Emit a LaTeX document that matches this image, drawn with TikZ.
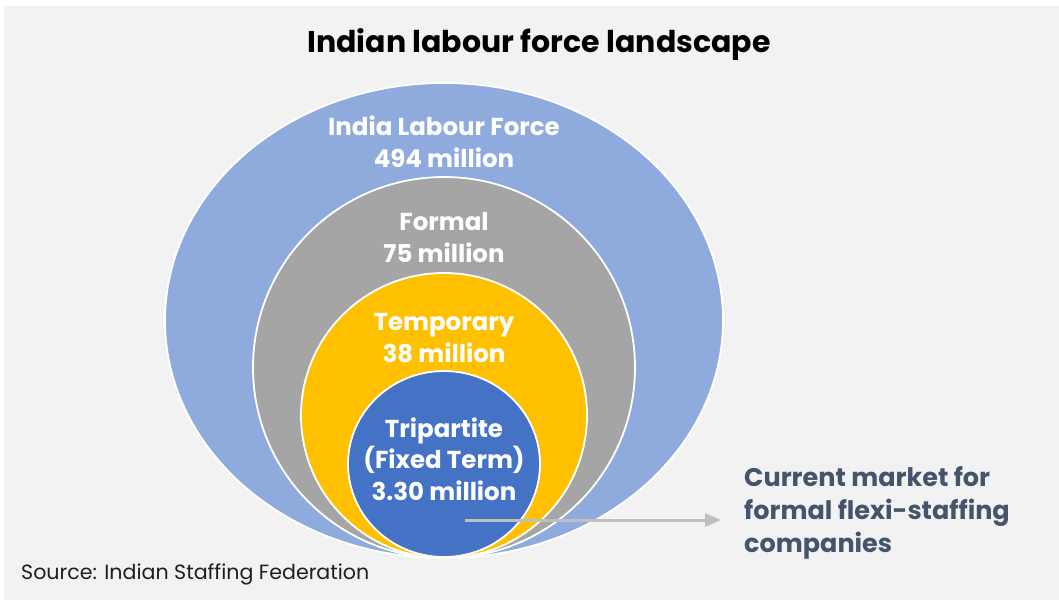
\documentclass[tikz,border=0pt]{standalone}
\usepackage{fontspec}
\setmainfont{Poppins}
\usetikzlibrary{arrows.meta,shapes.geometric}
\definecolor{bgc}{HTML}{F2F2F2}
\definecolor{outerc}{HTML}{8FAADC}
\definecolor{grayc}{HTML}{A5A5A5}
\definecolor{yellowc}{HTML}{FFC000}
\definecolor{bluec}{HTML}{4472C4}
\definecolor{slatec}{HTML}{44546A}
\definecolor{arrowc}{HTML}{BFBFBF}
\definecolor{srcc}{HTML}{1F1F1F}
\tikzset{
  ring/.style={ellipse, draw=white, line width=1.8pt, inner sep=0pt},
  lbl/.style={text=white, font=\bfseries\fontsize{24.5}{31.5}\selectfont, align=center, anchor=base, inner sep=0pt},
  market/.style={text=slatec, font=\bfseries\fontsize{25.5}{33}\selectfont, align=left, anchor=base west, inner sep=0pt},
  pointer/.style={draw=arrowc, line width=3pt, -{Triangle[length=16pt,width=13pt]}},
}
\begin{document}
\begin{tikzpicture}[x=1pt,y=-1pt]
\useasboundingbox (0,0) rectangle (1059,600);
\fill[white] (0,0) rectangle (1059,600);
\fill[bgc] (4,6) rectangle (1059,600);
\node[font=\bfseries\fontsize{30}{36}\selectfont, anchor=base, inner sep=0pt] (title) at (539,52) {Indian labour force landscape};
\node[ring, fill=outerc, minimum width=558pt, minimum height=475pt] (outer) at (444,320.5) {};
\node[ring, fill=grayc, minimum width=382pt, minimum height=381pt] (formal) at (444,367.5) {};
\node[ring, fill=yellowc, minimum width=286pt, minimum height=285pt] (temp) at (444,415.5) {};
\node[ring, fill=bluec, minimum width=192pt, minimum height=186pt] (tri) at (444,464) {};
\node[lbl] (outerlbl) at (444,167) {India Labour Force\\494 million};
\node[lbl] (formallbl) at (444,262) {Formal\\75 million};
\node[lbl] (templbl) at (444,362) {Temporary\\38 million};
\node[lbl] (trilbl) at (444,500) {Tripartite\\(Fixed Term)\\3.30 million};
\node[market] (mkt) at (744,552) {Current market for\\formal flexi-staffing\\companies};
\coordinate (arrS) at (465,520);
\coordinate (arrE) at (721,520);
\draw[pointer] (arrS) -- (arrE);
\node[text=srcc, font=\fontsize{20.6}{24}\selectfont, anchor=base west, inner sep=0pt] (src) at (21,579) {Source: Indian Staffing Federation};
\end{tikzpicture}
\end{document}
